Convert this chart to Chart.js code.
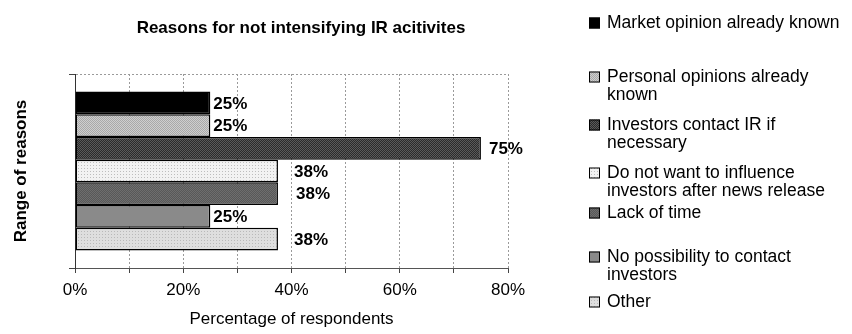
<!DOCTYPE html>
<html>
<head>
<meta charset="utf-8">
<title>Reasons for not intensifying IR acitivites</title>
<script src="https://cdn.jsdelivr.net/npm/chart.js@4/dist/chart.umd.min.js"></script>
<style>
  html, body { margin: 0; padding: 0; background: #fff; }
  #wrap { width: 852px; height: 334px; }
</style>
</head>
<body>
<div id="wrap"><canvas id="irChart" width="852" height="334"></canvas></div>
<script>
// survey answers, top bar first
const reasons = [
  'Market opinion already known',
  'Personal opinions already known',
  'Investors contact IR if necessary',
  'Do not want to influence investors after news release',
  'Lack of time',
  'No possibility to contact investors',
  'Other'
];
const shares = [25, 25, 75, 37.5, 37.5, 25, 37.5];
const xTickValues = [0, 20, 40, 60, 80];
const chartTitle = 'Reasons for not intensifying IR acitivites';

const FONT = '"Liberation Sans", Arial, Helvetica, sans-serif';
Chart.defaults.font.family = FONT;
Chart.defaults.font.size = 17;
Chart.defaults.color = '#000';

// small tiled fills, roughly like the old office hatch patterns
function tile(base, dot, step) {
  const c = document.createElement('canvas');
  c.width = step; c.height = step;
  const g = c.getContext('2d');
  g.fillStyle = base;
  g.fillRect(0, 0, step, step);
  g.fillStyle = dot;
  g.fillRect(0, 0, 1, 1);
  if (step === 2) g.fillRect(1, 1, 1, 1);
  return g.createPattern(c, 'repeat');
}

const fills = [
  '#000000',
  tile('#cfcfcf', '#a9a9a9', 2),
  tile('#2b2b2b', '#5a5a5a', 2),
  tile('#f2f2f2', '#bdbdbd', 3),
  tile('#585858', '#6e6e6e', 2),
  '#8a8a8a',
  tile('#dedede', '#b9b9b9', 3)
];

// title sits over the plot plus a bit of the legend gap
const topTitle = {
  id: 'topTitle',
  afterDraw(chart, args, opts) {
    const ctx = chart.ctx;
    ctx.save();
    ctx.font = 'bold 17px ' + FONT;
    ctx.fillStyle = '#000';
    ctx.textAlign = 'center';
    ctx.textBaseline = 'middle';
    ctx.fillText(chartTitle, opts.x, opts.y);
    ctx.restore();
  }
};

const valueLabels = {
  id: 'valueLabels',
  afterDatasetsDraw(chart, args, opts) {
    const ctx = chart.ctx;
    ctx.save();
    ctx.font = 'bold 17px ' + FONT;
    ctx.fillStyle = '#000';
    ctx.textBaseline = 'middle';
    chart.data.datasets.forEach((ds, i) => {
      const bar = chart.getDatasetMeta(i).data[0];
      ctx.fillText(Math.round(ds.data[0]) + '%', bar.x + opts.gaps[i], bar.y + 1);
    });
    ctx.restore();
  }
};

// legend on the right with wrapped entries
const sideLegend = {
  id: 'sideLegend',
  afterDraw(chart, args, opts) {
    const ctx = chart.ctx;
    ctx.save();
    ctx.font = '17.5px ' + FONT;
    ctx.textBaseline = 'middle';
    const maxW = opts.maxWidth;
    chart.data.datasets.forEach((ds, i) => {
      const words = ds.label.split(' ');
      const lines = [];
      let line = '';
      words.forEach(w => {
        const test = line ? line + ' ' + w : w;
        if (line && ctx.measureText(test).width > maxW) {
          lines.push(line);
          line = w;
        } else {
          line = test;
        }
      });
      lines.push(line);
      const y = opts.rows[i];
      ctx.fillStyle = ds.backgroundColor;
      ctx.fillRect(opts.boxX, y - 5.5, 11, 11);
      ctx.strokeStyle = '#000';
      ctx.lineWidth = 1;
      ctx.strokeRect(opts.boxX + 0.5, y - 5, 10, 10);
      ctx.fillStyle = '#000';
      lines.forEach((t, k) => ctx.fillText(t, opts.textX, y + k * opts.lineHeight));
    });
    ctx.restore();
  }
};

new Chart(document.getElementById('irChart'), {
  type: 'bar',
  data: {
    labels: [''],
    datasets: reasons.map((r, i) => ({
      label: r,
      data: [shares[i]],
      backgroundColor: fills[i],
      borderColor: '#000',
      borderWidth: 1.5,
      borderSkipped: false,
      categoryPercentage: 0.82,
      barPercentage: 1.0
    }))
  },
  options: {
    indexAxis: 'y',
    responsive: false,
    animation: false,
    devicePixelRatio: 1,
    layout: { padding: { left: 0, top: 74, bottom: 0, right: 344 } },
    scales: {
      x: {
        min: 0,
        max: 80,
        ticks: {
          stepSize: 10,
          autoSkip: false,
          maxRotation: 0,
          padding: 7,
          callback: v => xTickValues.includes(v) ? v + '%' : ''
        },
        grid: {
          color: '#9a9a9a',
          lineWidth: 1,
          tickLength: 5,
          tickColor: '#444',
          tickBorderDash: []
        },
        border: { color: '#555', width: 1, dash: [2, 2] },
        title: {
          display: true,
          text: 'Percentage of respondents',
          padding: { top: 0, bottom: 4 }
        },
        afterFit: s => { s.height = 66; }
      },
      y: {
        ticks: { display: false },
        grid: {
          color: '#9a9a9a',
          tickLength: 6,
          tickColor: '#444',
          tickBorderDash: []
        },
        border: { color: '#333', width: 1, dash: [2, 2] },
        title: {
          display: true,
          text: 'Range of reasons',
          font: { weight: 'bold' },
          padding: { top: 11, bottom: 0 }
        },
        afterFit: s => { s.width = 75; }
      }
    },
    plugins: {
      legend: { display: false },
      tooltip: { enabled: false },
      title: { display: false },
      topTitle: { x: 301, y: 28 },
      valueLabels: { gaps: [3, 3, 8, 16, 18, 3, 16] },
      sideLegend: {
        boxX: 589,
        textX: 607,
        maxWidth: 242,
        lineHeight: 18,
        rows: [23, 77, 125, 173, 213, 257, 302]
      }
    }
  },
  plugins: [topTitle, valueLabels, sideLegend]
});
</script>
</body>
</html>
